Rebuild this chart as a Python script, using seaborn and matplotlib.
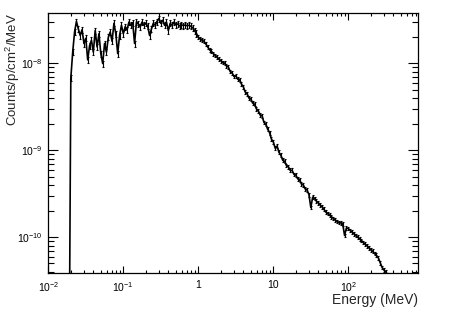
import numpy as np
import matplotlib
matplotlib.use("Agg")
import matplotlib.pyplot as plt
import matplotlib.ticker as mticker
import seaborn as sns

# ===================================================== #
# Proton spectrum, log binned (40 bins per decade)      #
# ===================================================== #

log_e_first = -1.725                                  # log10(MeV) of first bin centre
log_e_step = 0.025

# counts / p / cm^2 / MeV, in units of 1e-8
flux_rise = [
    0.0001,
    0.68, 1.35, 2.30, 3.05, 2.50, 2.10, 2.45, 1.70, 1.95, 1.10,
    1.60, 1.85, 1.35, 2.40, 1.55, 2.20, 1.30, 1.00, 1.70, 1.35,
    2.00, 2.30, 1.80, 2.90, 2.20, 1.30, 2.10, 2.75, 2.20, 2.65,
]
flux_plateau = [
    2.45, 3.00, 2.75, 2.95, 1.70, 3.00, 2.85, 2.65, 3.00, 2.75,
    2.90, 2.70, 2.10, 2.50, 2.90, 2.75, 3.05, 3.30, 2.90, 3.15,
    2.75, 3.00, 2.40, 2.90, 2.75, 3.00, 2.80, 2.85, 2.70, 2.78,
    2.74, 2.77, 2.72, 2.75, 2.68, 2.58, 2.40, 2.22, 2.00, 1.92,
]
flux_falloff = [
    1.85, 1.80, 1.68, 1.55, 1.44, 1.38, 1.30, 1.24, 1.18, 1.12,
    1.08, 1.03, 1.01, 0.94, 0.91, 0.81, 0.78, 0.71, 0.72, 0.66,
    0.65, 0.58, 0.54, 0.47, 0.45, 0.40, 0.39, 0.35, 0.34, 0.30,
    0.285, 0.255, 0.25, 0.21, 0.20, 0.175, 0.16, 0.135, 0.125, 0.106,
]
flux_tail = [
    0.112, 0.095, 0.088, 0.077, 0.075, 0.067, 0.065, 0.059, 0.059, 0.053,
    0.052, 0.047, 0.046, 0.041, 0.040, 0.036, 0.035, 0.031, 0.022, 0.029,
    0.028, 0.026, 0.025, 0.0235, 0.0225, 0.021, 0.0195, 0.0188, 0.0180, 0.0172,
    0.0165, 0.0158, 0.0152, 0.0148, 0.0146, 0.0143, 0.0105, 0.0128, 0.0126, 0.0120,
    0.0115, 0.0110, 0.0105, 0.0100, 0.0096, 0.0092, 0.0087, 0.0083, 0.0080, 0.0076,
    0.0072, 0.0069, 0.0065, 0.0062, 0.0058, 0.0051, 0.0045, 0.0042, 0.0040, 0.0037,
    0.0030, 0.0024,
]

err_pct_low = 8                                       # relative error below 1 MeV
err_pct_high = 5                                      # relative error above 1 MeV

x_ticks = [1e-2, 1e-1, 1, 10, 100]
x_tick_labels = [r"$10^{-2}$", r"$10^{-1}$", "1", "10", r"$10^{2}$"]
y_ticks = [1e-10, 1e-9, 1e-8]
y_tick_labels = [r"$10^{-10}$", r"$10^{-9}$", r"$10^{-8}$"]

# ----------------------------------------------------- #
flux = np.array(flux_rise + flux_plateau + flux_falloff + flux_tail) * 1e-8
energy = 10 ** (log_e_first + log_e_step * np.arange(len(flux)))
rel_err = np.where(energy < 1, err_pct_low, err_pct_high) / 100.0
rel_err[0] = 0

sns.set_style("ticks")
plt.rcParams["font.family"] = ["Liberation Sans", "DejaVu Sans"]
plt.rcParams["mathtext.fontset"] = "custom"
plt.rcParams["mathtext.rm"] = "Liberation Sans"
plt.rcParams["mathtext.it"] = "Liberation Sans:italic"
plt.rcParams["mathtext.bf"] = "Liberation Sans:bold"

fig = plt.figure(figsize=(4.52, 3.14), dpi=100)
ax = fig.add_axes([0.1069, 0.1296, 0.8186, 0.828])

sns.lineplot(x=energy, y=flux, color="black", linewidth=1.2, estimator=None,
             sort=False, ax=ax)
ax.errorbar(energy[1:], flux[1:], yerr=flux[1:] * rel_err[1:], fmt="none",
            ecolor="black", elinewidth=0.8, capsize=1.0, capthick=0.8)

ax.set_xscale("log")
ax.set_yscale("log")
ax.set_xlim(1e-2, 858)
ax.set_ylim(3.85e-11, 3.78e-8)

ax.xaxis.set_major_locator(mticker.FixedLocator(x_ticks))
ax.xaxis.set_major_formatter(mticker.FixedFormatter(x_tick_labels))
ax.xaxis.set_minor_locator(mticker.LogLocator(base=10, subs=np.arange(2, 10), numticks=20))
ax.xaxis.set_minor_formatter(mticker.NullFormatter())
ax.yaxis.set_major_locator(mticker.FixedLocator(y_ticks))
ax.yaxis.set_major_formatter(mticker.FixedFormatter(y_tick_labels))
ax.yaxis.set_minor_locator(mticker.LogLocator(base=10, subs=np.arange(2, 10), numticks=20))
ax.yaxis.set_minor_formatter(mticker.NullFormatter())

ax.tick_params(which="both", direction="in", top=True, right=True,
               color="black", width=0.8, labelsize=7.5, labelcolor="black")
ax.tick_params(axis="x", which="major", length=5, pad=5)
ax.tick_params(axis="x", which="minor", length=2.5)
ax.tick_params(axis="y", which="major", length=7, pad=4)
ax.tick_params(axis="y", which="minor", length=4)
for sp in ax.spines.values():
    sp.set_color("black")
    sp.set_linewidth(0.9)

ax.set_xlabel("Energy (MeV)", fontsize=10, loc="right")
ax.set_ylabel("Counts/p/cm$^{2}$/MeV", fontsize=9.5, loc="top")
ax.xaxis.set_label_coords(1.0, -0.075)
ax.yaxis.set_label_coords(-0.071, 1.0)

fig.savefig("out.png", dpi=100)
